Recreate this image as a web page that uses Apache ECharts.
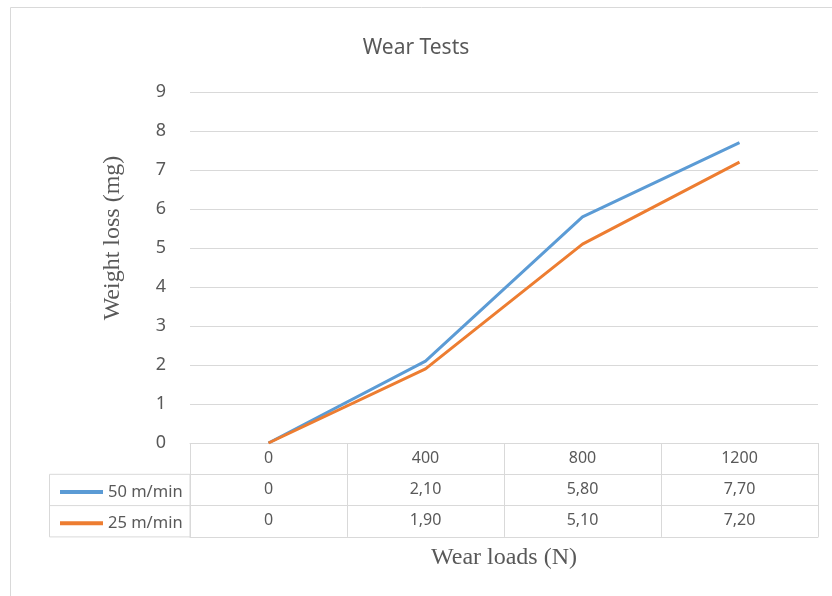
<!DOCTYPE html>
<html>
<head>
<meta charset="utf-8">
<script src="https://cdn.jsdelivr.net/npm/echarts@6/dist/echarts.min.js"></script>
<style>html,body{margin:0;padding:0;background:#fff}#c{width:832px;height:596px}</style>
</head>
<body>
<div id="c"></div>
<script>
const categories = ['0', '400', '800', '1200'];
const seriesNames = ['50 m/min', '25 m/min'];
const s50 = [0, 2.10, 5.80, 7.70];
const s25 = [0, 1.90, 5.10, 7.20];
const yTicks = [0, 9, 1];
const chartTitle = 'Wear Tests';
const xTitle = 'Wear loads (N)';
const yTitle = 'Weight loss (mg)';

const fmt = v => v === 0 ? '0' : v.toFixed(2).replace('.', ',');
const GRID = '#D9D9D9';
const TXT = '#595959';
const sans = '"Noto Sans", "Open Sans", sans-serif';
const serif = '"Liberation Serif", "DejaVu Serif", serif';
const L = 190, R = 818, T = 92, B = 443, ROW = 31.3;

const chart = echarts.init(document.getElementById('c'));
function tableAxis(data, offset, showLine) {
  return {
    type: 'category', gridIndex: 0, position: 'bottom', offset: offset,
    data: data, boundaryGap: true,
    axisLine: {show: showLine, lineStyle: {color: GRID, width: 1}},
    axisTick: {show: false},
    axisLabel: {show: true, interval: 0, margin: 7, fontSize: 16, color: TXT, fontFamily: sans},
    splitLine: {show: false}
  };
}
const xAxes = [
  Object.assign(tableAxis(categories, 0, true), {
    axisTick: {show: true, interval: 0, length: ROW * 3, inside: false, lineStyle: {color: GRID}},
    name: xTitle, nameLocation: 'middle', nameGap: 103,
    nameTextStyle: {fontFamily: serif, fontSize: 24, color: TXT}
  }),
  tableAxis(s50.map(fmt), ROW, true),
  tableAxis(s25.map(fmt), ROW * 2, true),
  Object.assign(tableAxis(categories, ROW * 3, true), {axisLabel: {show: false}})
];
chart.setOption({
  animation: false,
  title: {text: chartTitle, left: 'center', top: 33,
    textStyle: {fontFamily: sans, fontSize: 21, fontWeight: 'normal', color: TXT}},
  grid: {left: L, right: 832 - R, top: T, bottom: 596 - B, containLabel: false},
  legend: {
    orient: 'vertical', left: 55, top: 477, itemGap: 11.3,
    itemWidth: 43, itemHeight: 4, icon: 'rect',
    textStyle: {fontFamily: sans, fontSize: 16.5, color: TXT, lineHeight: 20},
    data: seriesNames
  },
  xAxis: xAxes,
  yAxis: {
    type: 'value', min: yTicks[0], max: yTicks[1], interval: yTicks[2],
    axisLine: {show: false}, axisTick: {show: false},
    axisLabel: {margin: 24, fontSize: 18, color: TXT, fontFamily: sans},
    splitLine: {lineStyle: {color: GRID, width: 1}}
  },
  graphic: [
    {type: 'rect', shape: {x: 10.5, y: 7.5, width: 840, height: 600},
      style: {fill: null, stroke: GRID, lineWidth: 1}, silent: true, z: -1},
    {type: 'rect', shape: {x: 49.5, y: B + ROW, width: L - 49.5, height: ROW * 2},
      style: {fill: null, stroke: GRID, lineWidth: 1}, silent: true},
    {type: 'line', shape: {x1: 49.5, y1: B + ROW * 2, x2: L, y2: B + ROW * 2},
      style: {stroke: GRID, lineWidth: 1}, silent: true},
    {type: 'text', x: 113, y: 238, rotation: Math.PI / 2,
      style: {text: yTitle, fontFamily: serif, fontSize: 24, fill: TXT,
        textAlign: 'center', textVerticalAlign: 'middle'}}
  ],
  series: [
    {name: seriesNames[0], type: 'line', xAxisIndex: 0, data: s50, showSymbol: false,
      symbol: 'none', color: '#5B9BD5', lineStyle: {width: 3, color: '#5B9BD5'}},
    {name: seriesNames[1], type: 'line', xAxisIndex: 0, data: s25, showSymbol: false,
      symbol: 'none', color: '#ED7D31', lineStyle: {width: 3, color: '#ED7D31'}}
  ]
});
</script>
</body>
</html>
